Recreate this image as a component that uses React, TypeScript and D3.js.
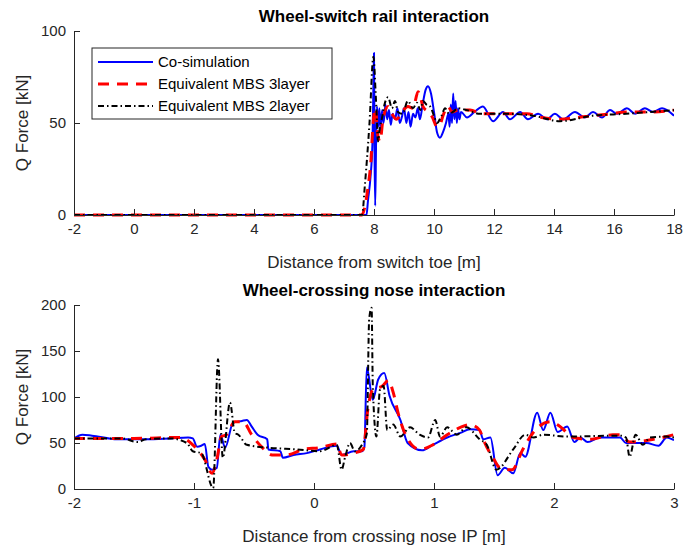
import React, { useRef, useEffect } from "react";
import * as d3 from "d3";

type Pt = [number, number];

// top panel: wheel-switch rail
const topCosim: Pt[] = [
  [-2, 0], [7.75, 0], [7.8, 8], [7.88, 20], [7.95, 40], [7.98, 70], [8.0, 88], [8.02, 30], [8.04, 5],
  [8.07, 40], [8.1, 59], [8.14, 48], [8.18, 58], [8.22, 46], [8.27, 57], [8.32, 50], [8.38, 60],
  [8.44, 52], [8.5, 57], [8.56, 49], [8.62, 55], [8.7, 52], [8.78, 58], [8.86, 50], [8.94, 54],
  [9.0, 58], [9.08, 50], [9.15, 56], [9.22, 48], [9.3, 55], [9.38, 53], [9.46, 58], [9.53, 52],
  [9.62, 60], [9.72, 68], [9.8, 70], [9.9, 66], [10.0, 56], [10.1, 45], [10.2, 42], [10.3, 45],
  [10.4, 50], [10.48, 55], [10.52, 48], [10.56, 60], [10.6, 50], [10.64, 66], [10.68, 52],
  [10.72, 62], [10.76, 50], [10.8, 58], [10.85, 52], [10.9, 56], [11.1, 53], [11.35, 56],
  [11.63, 59], [11.97, 51], [12.3, 56], [12.53, 52], [12.87, 56], [13.13, 52], [13.47, 55],
  [13.77, 52], [14.03, 55], [14.3, 52], [14.7, 56], [15.03, 53], [15.3, 56], [15.6, 53],
  [15.87, 57], [16.1, 55], [16.43, 58], [16.7, 55], [17.03, 58], [17.3, 56], [17.6, 58], [18, 54],
];
const top3layer: Pt[] = [
  [-2, 0], [7.6, 0], [7.7, 5], [7.8, 15], [7.9, 30], [7.97, 50], [8.05, 58], [8.12, 44], [8.2, 40],
  [8.3, 52], [8.47, 59], [8.6, 55], [8.75, 52], [8.93, 56], [9.13, 59], [9.3, 58], [9.47, 67],
  [9.55, 64], [9.63, 59], [9.8, 56], [9.95, 53], [10.1, 48], [10.2, 49], [10.3, 54], [10.47, 59],
  [10.6, 56], [10.8, 57], [11.2, 57], [11.6, 55], [12.5, 55], [13.1, 55], [13.6, 53], [14.2, 52],
  [14.8, 53], [15.3, 54], [15.9, 55], [16.4, 56], [17.2, 56], [18, 57],
];
const top2layer: Pt[] = [
  [-2, 0], [7.6, 0], [7.7, 17], [7.85, 50], [7.98, 86], [8.05, 68], [8.1, 50], [8.13, 40],
  [8.2, 48], [8.27, 53], [8.35, 60], [8.47, 64], [8.6, 58], [8.7, 62], [8.8, 56], [8.95, 55],
  [9.13, 62], [9.3, 58], [9.43, 61], [9.55, 57], [9.63, 62], [9.75, 60], [9.87, 59], [10.0, 54],
  [10.1, 50], [10.25, 54], [10.37, 58], [10.5, 55], [10.63, 56], [10.8, 58], [11.1, 57],
  [11.53, 55], [12.5, 55], [13.3, 54], [14.2, 51], [15.3, 54], [16.4, 55], [17.2, 56], [18, 57],
];

// bottom panel: wheel-crossing nose
const botCosim: Pt[] = [
  [-2, 55], [-1.93, 59], [-1.85, 58], [-1.64, 54], [-1.4, 54], [-1.2, 55], [-1.05, 56],
  [-1.01, 55], [-0.975, 46], [-0.94, 47], [-0.91, 49], [-0.88, 24], [-0.85, 21], [-0.81, 23],
  [-0.78, 59], [-0.74, 45], [-0.675, 72], [-0.6, 74], [-0.56, 75], [-0.52, 68], [-0.47, 59],
  [-0.39, 54], [-0.38, 43], [-0.28, 41], [-0.26, 34], [-0.17, 37], [-0.06, 39], [0.05, 43],
  [0.19, 47], [0.23, 37], [0.33, 41], [0.4, 41], [0.42, 46], [0.44, 132], [0.49, 97],
  [0.535, 119], [0.585, 126], [0.63, 101], [0.72, 75], [0.78, 50], [0.9, 42], [0.99, 48],
  [1.11, 56], [1.22, 61], [1.3, 65], [1.38, 64], [1.41, 54], [1.47, 56], [1.53, 15], [1.59, 23],
  [1.66, 17], [1.72, 39], [1.76, 35], [1.86, 83], [1.91, 64], [1.97, 83], [2.03, 62], [2.11, 68],
  [2.17, 51], [2.22, 56], [2.28, 51], [2.38, 56], [2.55, 56], [2.6, 50], [2.77, 50], [2.87, 47],
  [2.94, 56], [3, 53],
];
const bot3layer: Pt[] = [
  [-2, 55], [-1.5, 55], [-1.12, 56], [-1.01, 48], [-0.91, 32], [-0.85, 17], [-0.81, 32],
  [-0.77, 57], [-0.73, 59], [-0.66, 73], [-0.59, 73], [-0.52, 59], [-0.43, 45], [-0.35, 37],
  [-0.23, 37], [-0.09, 43], [0.05, 45], [0.19, 49], [0.23, 37], [0.33, 39], [0.41, 43],
  [0.45, 88], [0.49, 108], [0.57, 112], [0.62, 118], [0.66, 105], [0.7, 83], [0.77, 57],
  [0.88, 43], [0.99, 48], [1.11, 59], [1.22, 67], [1.3, 70], [1.38, 64], [1.41, 54], [1.5, 32],
  [1.55, 23], [1.65, 21], [1.74, 43], [1.83, 62], [1.97, 73], [2.05, 68], [2.16, 56], [2.3, 54],
  [2.49, 59], [2.55, 59], [2.63, 51], [2.83, 54], [3, 59],
];
const bot2layer: Pt[] = [
  [-2, 55], [-1.6, 55], [-1.47, 51], [-1.4, 54], [-1.2, 55], [-1.06, 50], [-1.01, 41],
  [-0.94, 39], [-0.84, 1], [-0.8, 141], [-0.76, 34], [-0.7, 94], [-0.66, 61], [-0.63, 59],
  [-0.56, 48], [-0.39, 45], [-0.14, 43], [0.05, 41], [0.19, 48], [0.23, 21], [0.26, 35],
  [0.3, 50], [0.34, 41], [0.4, 48], [0.44, 60], [0.46, 185], [0.48, 197], [0.49, 112],
  [0.52, 57], [0.55, 108], [0.58, 112], [0.61, 64], [0.66, 70], [0.72, 57], [0.8, 67],
  [0.88, 59], [0.95, 56], [1.01, 75], [1.05, 57], [1.11, 67], [1.19, 59], [1.27, 67],
  [1.38, 54], [1.44, 48], [1.52, 21], [1.66, 43], [1.76, 59], [1.83, 56], [1.91, 59],
  [2.11, 57], [2.55, 58], [2.6, 56], [2.63, 35], [2.68, 59], [2.74, 48], [2.8, 56], [2.94, 57],
  [3, 56],
];

const seriesNames = ["Co-simulation", "Equivalent MBS 3layer", "Equivalent MBS 2layer"];
const topXTicks = [-2, 0, 2, 4, 6, 8, 10, 12, 14, 16, 18];
const topYTicks = [0, 50, 100];
const botXTicks = [-2, -1, 0, 1, 2, 3];
const botYTicks = [0, 50, 100, 150, 200];

const styles = [
  { color: "#0000ff", width: 2, dash: null },
  { color: "#ff0000", width: 3, dash: "11,8" },
  { color: "#000000", width: 2, dash: "6,3,1.5,3" },
];

const W = 684;
const H = 553;
const FONT = "'Liberation Sans', Arial, sans-serif";
const AX = "#262626";

export default function App() {
  const svgRef = useRef<SVGSVGElement>(null);

  useEffect(() => {
    document.body.style.margin = "0";
    const svg = d3.select(svgRef.current);
    svg.selectAll("*").remove();

    const panels = [
      {
        top: 31, bottom: 215, xDomain: [-2, 18], yDomain: [0, 100],
        xTicks: topXTicks, yTicks: topYTicks, data: [topCosim, top3layer, top2layer],
        title: "Wheel-switch rail interaction", xLabel: "Distance from switch toe [m]",
      },
      {
        top: 305, bottom: 489, xDomain: [-2, 3], yDomain: [0, 200],
        xTicks: botXTicks, yTicks: botYTicks, data: [botCosim, bot3layer, bot2layer],
        title: "Wheel-crossing nose interaction", xLabel: "Distance from crossing nose IP [m]",
      },
    ];

    const left = 74;
    const right = 674;
    const fmt = (d: d3.NumberValue) => String(d);

    panels.forEach((p, pi) => {
      const x = d3.scaleLinear().domain(p.xDomain).range([left, right]);
      const y = d3.scaleLinear().domain(p.yDomain).range([p.bottom, p.top]);
      const g = svg.append("g");

      // clip so lines stay inside the axes
      const clipId = `clip${pi}`;
      svg.append("clipPath").attr("id", clipId)
        .append("rect").attr("x", left).attr("y", p.top - 2)
        .attr("width", right - left).attr("height", p.bottom - p.top + 4);

      const line = d3.line<Pt>()
        .x((d) => x(d[0]))
        .y((d) => y(d[1]))
        .curve(d3.curveMonotoneX);

      p.data.forEach((d, i) => {
        const s = styles[i];
        g.append("path")
          .datum(d)
          .attr("d", line)
          .attr("clip-path", `url(#${clipId})`)
          .attr("fill", "none")
          .attr("stroke", s.color)
          .attr("stroke-width", s.width)
          .attr("stroke-dasharray", s.dash)
          .attr("stroke-linejoin", "round");
      });

      // axes (left + bottom only, ticks inward)
      const xAxis = g.append("g").attr("transform", `translate(0,${p.bottom})`)
        .call(d3.axisBottom(x).tickValues(p.xTicks).tickFormat(fmt)
          .tickSizeInner(-6).tickSizeOuter(0).tickPadding(8));
      const yAxis = g.append("g").attr("transform", `translate(${left},0)`)
        .call(d3.axisLeft(y).tickValues(p.yTicks).tickFormat(fmt)
          .tickSizeInner(-6).tickSizeOuter(0).tickPadding(8));
      [xAxis, yAxis].forEach((a) => {
        a.select(".domain").attr("stroke", AX).attr("stroke-width", 1);
        a.selectAll(".tick line").attr("stroke", AX);
        a.selectAll(".tick text").attr("fill", AX).style("font-family", FONT).style("font-size", "15px");
      });

      g.append("text")
        .attr("x", (left + right) / 2).attr("y", p.top - 9)
        .attr("text-anchor", "middle")
        .style("font-family", FONT).style("font-size", "17px").style("font-weight", "bold")
        .attr("fill", "#000")
        .text(p.title);

      g.append("text")
        .attr("x", (left + right) / 2).attr("y", p.bottom + 53)
        .attr("text-anchor", "middle")
        .style("font-family", FONT).style("font-size", "17px")
        .attr("fill", AX)
        .text(p.xLabel);

      g.append("text")
        .attr("transform", `translate(28,${(p.top + p.bottom) / 2}) rotate(-90)`)
        .attr("text-anchor", "middle")
        .style("font-family", FONT).style("font-size", "17px")
        .attr("fill", AX)
        .text("Q Force [kN]");
    });

    // legend in top panel
    const lg = svg.append("g");
    lg.append("rect")
      .attr("x", 92).attr("y", 48).attr("width", 240).attr("height", 71)
      .attr("fill", "#fff").attr("stroke", "#262626").attr("stroke-width", 1);
    seriesNames.forEach((name, i) => {
      const yy = 62 + i * 22;
      const s = styles[i];
      lg.append("line")
        .attr("x1", 98).attr("x2", 153).attr("y1", yy).attr("y2", yy)
        .attr("stroke", s.color).attr("stroke-width", s.width)
        .attr("stroke-dasharray", s.dash);
      lg.append("text")
        .attr("x", 158).attr("y", yy).attr("dy", "0.35em")
        .style("font-family", FONT).style("font-size", "15px")
        .attr("fill", "#000")
        .text(name);
    });
  }, []);

  return <svg ref={svgRef} width={W} height={H} style={{ display: "block", background: "#fff" }} />;
}
